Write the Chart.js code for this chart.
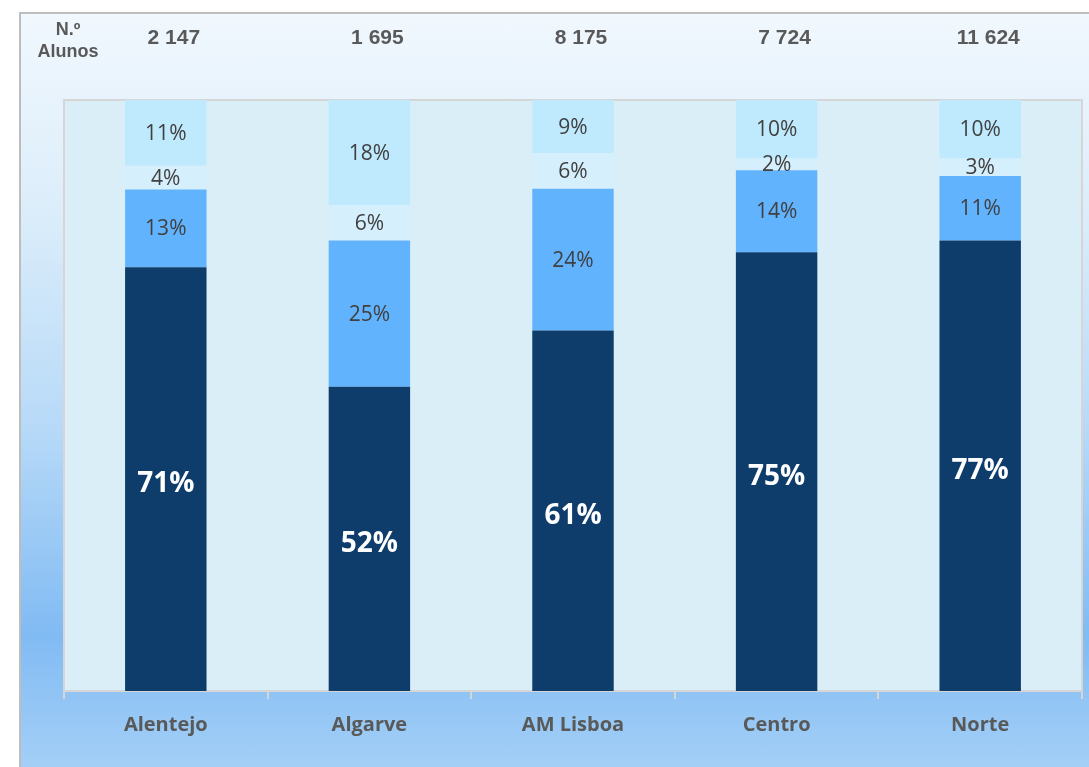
<!DOCTYPE html>
<html>
<head>
<meta charset="utf-8">
<script src="https://cdn.jsdelivr.net/npm/chart.js@4/dist/chart.umd.min.js"></script>
<style>
  html, body { margin: 0; padding: 0; background: #fff; }
  #frame {
    position: absolute; left: 19px; top: 12px; width: 1080px; height: 760px;
    border-left: 2px solid #bdbdbd; border-top: 2px solid #bdbdbd;
    background: linear-gradient(to bottom, #f1f8fe 0px, #dbedfa 200px, #b8daf8 410px, #81bbf3 620px, #a5d0f7 760px);
  }
  #wrap { position: absolute; left: 0; top: 0; width: 1089px; height: 767px; }
</style>
</head>
<body>
<div id="frame"></div>
<div id="wrap"><canvas id="chart" width="1089" height="767"></canvas></div>
<script>
// Data
const regioes = ["Alentejo", "Algarve", "AM Lisboa", "Centro", "Norte"];
const nAlunos = ["2 147", "1 695", "8 175", "7 724", "11 624"];
const serieA = [71, 52, 61, 75, 77];   // dark
const serieB = [13, 25, 24, 14, 11];   // mid blue
const serieC = [4, 6, 6, 2, 3];        // pale
const serieD = [11, 18, 9, 10, 10];    // light top

const series = [serieA, serieB, serieC, serieD];
const colors = ["#0e3c6b", "#62b3fe", "#d6effd", "#bfe9fd"];

// 100% stacked: normalise each column
const totals = regioes.map((_, i) => series.reduce((s, arr) => s + arr[i], 0));

const plotBg = {
  id: "plotBg",
  beforeDraw(chart) {
    const { ctx, chartArea: a } = chart;
    ctx.save();
    ctx.fillStyle = "#daeef7";
    ctx.fillRect(a.left, a.top, a.right - a.left, a.bottom - a.top);
    ctx.strokeStyle = "#d6d6d6";
    ctx.lineWidth = 2;
    ctx.beginPath();
    ctx.moveTo(a.left, a.bottom);
    ctx.lineTo(a.left, a.top);
    ctx.lineTo(a.right, a.top);
    ctx.lineTo(a.right, a.bottom);
    ctx.stroke();
    ctx.restore();
  }
};

const labels = {
  id: "labels",
  afterDatasetsDraw(chart) {
    const ctx = chart.ctx;
    ctx.save();
    ctx.textAlign = "center";
    ctx.textBaseline = "middle";
    chart.data.datasets.forEach((ds, di) => {
      const meta = chart.getDatasetMeta(di);
      meta.data.forEach((bar, i) => {
        const y = (bar.y + bar.base) / 2;
        if (di === 0) {
          ctx.font = "bold 28px 'Open Sans', sans-serif";
          ctx.fillStyle = "#ffffff";
          ctx.fillText(series[di][i] + "%", bar.x, y + 5);
        } else {
          ctx.font = "21px 'Open Sans', sans-serif";
          ctx.fillStyle = "#404040";
          ctx.fillText(series[di][i] + "%", bar.x, y + 1);
        }
      });
    });
    // N.º alunos row
    const meta0 = chart.getDatasetMeta(0);
    ctx.fillStyle = "#595959";
    ctx.font = "bold 21px 'Liberation Sans', Arial, sans-serif";
    meta0.data.forEach((bar, i) => ctx.fillText(nAlunos[i], bar.x + 8, 38));
    ctx.font = "bold 18px 'Liberation Sans', Arial, sans-serif";
    ctx.fillText("N.º", 68, 30);
    ctx.fillText("Alunos", 68, 52);
    ctx.restore();
  }
};

new Chart(document.getElementById("chart"), {
  type: "bar",
  data: {
    labels: regioes,
    datasets: series.map((arr, k) => ({
      data: arr.map((v, i) => v / totals[i] * 100),
      backgroundColor: colors[k],
      borderWidth: 0,
      categoryPercentage: 0.8,
      barPercentage: 0.5
    }))
  },
  options: {
    responsive: false,
    animation: false,
    layout: { padding: { left: 64, right: 7, top: 100, bottom: 16 } },
    plugins: { legend: { display: false }, tooltip: { enabled: false } },
    scales: {
      x: {
        stacked: true,
        grid: { display: true, drawOnChartArea: false, tickLength: 8, color: "#d6d6d6", lineWidth: 2 },
        border: { display: true, color: "#d6d6d6", width: 2 },
        ticks: { color: "#595959", padding: 14, font: { family: "'Open Sans', sans-serif", size: 20, weight: "bold" } }
      },
      y: {
        stacked: true,
        display: false,
        min: 0,
        max: 100
      }
    }
  },
  plugins: [plotBg, labels]
});
</script>
</body>
</html>
